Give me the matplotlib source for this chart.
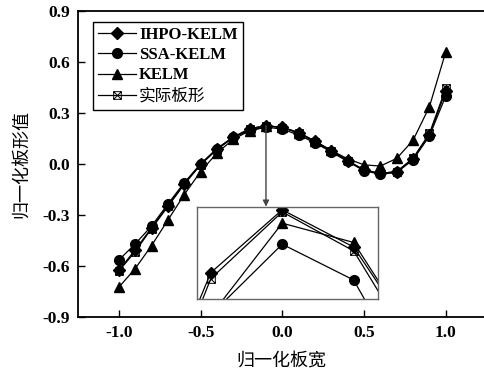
import matplotlib
matplotlib.use("Agg")
import matplotlib.pyplot as plt
from matplotlib.path import Path

plt.rcParams['font.family'] = ['Liberation Serif', 'Noto Sans CJK SC']
plt.rcParams['mathtext.default'] = 'regular'

# Normalised strip width and predicted / measured normalised flatness
x = [-1.0, -0.9, -0.8, -0.7, -0.6, -0.5, -0.4, -0.3, -0.2, -0.1, 0.0,
     0.1, 0.2, 0.3, 0.4, 0.5, 0.6, 0.7, 0.8, 0.9, 1.0]
ihpo = [-0.625, -0.505, -0.375, -0.245, -0.115, 0.000, 0.090, 0.159, 0.2081, 0.2260, 0.2154,
        0.185, 0.133, 0.078, 0.020, -0.035, -0.055, -0.045, 0.030, 0.170, 0.430]
ssa = [-0.565, -0.470, -0.365, -0.235, -0.110, 0.000, 0.090, 0.158, 0.1961, 0.2162, 0.2060,
       0.170, 0.125, 0.070, 0.015, -0.040, -0.060, -0.050, 0.025, 0.165, 0.400]
kelm = [-0.725, -0.615, -0.480, -0.330, -0.180, -0.045, 0.065, 0.145, 0.1959, 0.2222, 0.2167,
        0.185, 0.135, 0.080, 0.030, -0.005, -0.012, 0.033, 0.140, 0.337, 0.660]
actual = [-0.630, -0.515, -0.380, -0.250, -0.120, -0.005, 0.085, 0.155, 0.2064, 0.2254, 0.2143,
          0.181, 0.130, 0.075, 0.018, -0.035, -0.055, -0.045, 0.035, 0.180, 0.445]

labels = ['IHPO-KELM', 'SSA-KELM', 'KELM', '实际板形']
xticks = [-1.0, -0.5, 0.0, 0.5, 1.0]
yticks = [-0.9, -0.6, -0.3, 0.0, 0.3, 0.6, 0.9]

# square-with-cross marker for the measured profile
box_x = Path([(-1, -1), (1, -1), (1, 1), (-1, 1), (-1, -1),
              (-1, -1), (1, 1), (-1, 1), (1, -1)],
             [Path.MOVETO, Path.LINETO, Path.LINETO, Path.LINETO, Path.CLOSEPOLY,
              Path.MOVETO, Path.LINETO, Path.MOVETO, Path.LINETO])

styles = [
    dict(marker='D', ms=6, mfc='black', mec='black'),
    dict(marker='o', ms=7, mfc='black', mec='black'),
    dict(marker='^', ms=7, mfc='black', mec='black'),
    dict(marker=box_x, ms=5.5, mfc='none', mec='black', mew=0.7),
]
series = [ihpo, ssa, kelm, actual]

fig = plt.figure(figsize=(4.85, 3.74), dpi=100)
ax = fig.add_axes([78 / 485, 1 - 317 / 374, 407 / 485, 306 / 374])

for ys, lab, st in zip(series, labels, styles):
    ax.plot(x, ys, color='black', lw=0.9, label=lab, **st)

ax.set_xlim(-1.25, 1.24)
ax.set_ylim(-0.9, 0.9)
ax.set_xticks(xticks)
ax.set_yticks(yticks)
ax.set_xticklabels([f'{v:.1f}' for v in xticks], fontweight='bold', fontsize=12.5)
ax.set_yticklabels([f'{v:.1f}' for v in yticks], fontweight='bold', fontsize=12.5)
ax.tick_params(direction='in', length=5, width=1.0, top=False, right=False, pad=6)
for side in ['left', 'bottom', 'top']:
    ax.spines[side].set_linewidth(1.3)
ax.spines['right'].set_visible(False)

ax.set_xlabel('归一化板宽', fontsize=13, family='Noto Sans CJK SC', labelpad=8)
ax.set_ylabel('归一化板形值', fontsize=13, family='Noto Sans CJK SC', labelpad=9)

leg = ax.legend(loc='upper left', bbox_to_anchor=(0.037, 0.964), borderaxespad=0,
                frameon=True, fancybox=False, edgecolor='black', framealpha=1,
                handlelength=2.3, handletextpad=0.15, labelspacing=0.25,
                borderpad=0.3, prop=dict(size=12, weight='bold'))
leg.get_frame().set_linewidth(1.0)
leg.get_texts()[-1].set_fontfamily('Noto Sans CJK SC')
leg.get_texts()[-1].set_fontweight('normal')

# magnified view around the crest
ins = ax.inset_axes([-0.525, -0.796, 1.11, 0.545], transform=ax.transData)
for ys, st in zip(series, styles):
    ins.plot(x, ys, color='black', lw=0.9, **st)
ins.set_xlim(-0.22, 0.034)
ins.set_ylim(0.2005, 0.2269)
ins.set_xticks([])
ins.set_yticks([])
for sp in ins.spines.values():
    sp.set_color('#666666')
    sp.set_linewidth(1.0)

ax.annotate('', xy=(-0.1, -0.251), xytext=(-0.1, 0.226),
            arrowprops=dict(arrowstyle='-|>', color='#444444', lw=1.0,
                            shrinkA=0, shrinkB=0, mutation_scale=9))

fig.savefig('out.png', dpi=100)
